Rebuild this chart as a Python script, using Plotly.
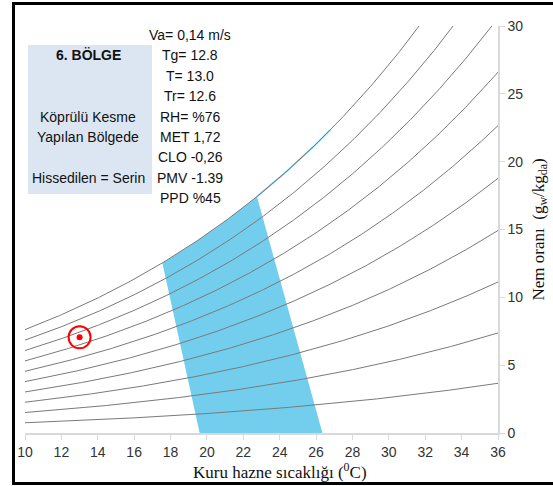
import numpy as np
import plotly.graph_objects as go

# Relative humidity levels of the psychrometric curves (%)
rh_levels = [10, 20, 30, 40, 50, 60, 70, 80, 90, 100]
# Dry-bulb temperature grid (°C)
temps = np.linspace(10, 36, 261)
pressure_kpa = 101.325

# Comfort zone boundary temperatures (°C)
zone_bottom_left = 19.6
zone_top_left = 17.55
zone_top_right = 22.75
zone_bottom_right = 26.35
zone_edge_end = 26.8

# Measured point
point_t = [13.0]
point_w = [7.05]

info_lines = ["Va= 0,14 m/s", "Tg= 12.8", "T= 13.0", "Tr= 12.6", "RH= %76",
              "MET 1,72", "CLO -0,26", "PMV -1.39", "PPD %45"]
box_title = "6. BÖLGE"
box_lines = ["Köprülü Kesme", "Yapılan Bölgede", "", "Hissedilen = Serin"]

x_ticks = list(range(10, 37, 2))
y_ticks = [0, 5, 10, 15, 20, 25, 30]


def p_sat(t):
    return 0.61094 * np.exp(17.625 * t / (t + 243.04))


def w_ratio(t, rh):
    pv = rh / 100.0 * p_sat(t)
    return 622.0 * pv / (pressure_kpa - pv)


fig = go.Figure()

# Comfort zone polygon: bottom-left -> top-left -> along saturation -> bottom-right
t_top = np.linspace(zone_top_left, zone_top_right, 60)
zx = [zone_bottom_left] + list(t_top) + [zone_bottom_right, zone_bottom_left]
zy = [0] + list(w_ratio(t_top, 100)) + [0, 0]
fig.add_trace(go.Scatter(x=zx, y=zy, fill="toself", mode="lines",
                         fillcolor="rgb(115,206,238)", line=dict(width=0),
                         hoverinfo="skip", showlegend=False))
t_edge = np.linspace(zone_top_right, zone_edge_end, 30)
fig.add_trace(go.Scatter(x=t_edge, y=w_ratio(t_edge, 100), mode="lines",
                         line=dict(color="rgb(115,206,238)", width=1.5),
                         hoverinfo="skip", showlegend=False))

# Relative humidity curves
for rh in rh_levels:
    fig.add_trace(go.Scatter(x=temps, y=w_ratio(temps, rh), mode="lines",
                             line=dict(color="#7a7a7a", width=1),
                             showlegend=False, hoverinfo="skip"))

# Measured state point
fig.add_trace(go.Scatter(x=point_t, y=point_w, mode="markers",
                         marker=dict(symbol="circle-open", size=22, color="red",
                                     line=dict(width=2, color="red")),
                         showlegend=False))
fig.add_trace(go.Scatter(x=point_t, y=point_w, mode="markers",
                         marker=dict(symbol="circle", size=6, color="red"),
                         showlegend=False))

L, R, T, B = 25, 55, 26, 53
W, H = 553, 486
pw, ph = W - L - R, H - T - B


def px(xp):
    return (xp - L) / pw


def py(yp):
    return (H - B - yp) / ph


shapes = [
    # information box
    dict(type="rect", xref="paper", yref="paper", x0=px(28), x1=px(152),
         y0=py(194), y1=py(45), fillcolor="#dce6f2", line=dict(width=0), layer="below"),
    # outer frame
    dict(type="rect", xref="paper", yref="paper", x0=px(13.5), x1=px(600),
         y0=py(483.5), y1=py(3.5), line=dict(color="black", width=3)),
]

annotations = []
text_font = dict(family="Liberation Sans", size=14, color="#111")
for i, s in enumerate(info_lines):
    annotations.append(dict(x=px(190), y=py(35 + i * 20.4), xref="paper", yref="paper",
                            text=s, showarrow=False, font=text_font,
                            xanchor="center", yanchor="middle"))
annotations.append(dict(x=px(88), y=py(55), xref="paper", yref="paper",
                        text="<b>" + box_title + "</b>", showarrow=False, font=text_font,
                        xanchor="center", yanchor="middle"))
for i, s in enumerate(box_lines):
    if s:
        annotations.append(dict(x=px(88), y=py(117 + i * 20.4), xref="paper", yref="paper",
                                text=s, showarrow=False, font=text_font,
                                xanchor="center", yanchor="middle"))

serif = dict(family="Liberation Serif", size=17, color="#111")
annotations.append(dict(x=px(280), y=py(471), xref="paper", yref="paper",
                        text="Kuru hazne sıcaklığı (<sup>0</sup>C)", showarrow=False,
                        font=serif, xanchor="center", yanchor="middle"))
annotations.append(dict(x=px(539), y=0.5, xref="paper", yref="paper",
                        text="Nem oranı  (g<sub>w</sub>/kg<sub>da</sub>)", showarrow=False,
                        font=serif, textangle=-90, xanchor="center", yanchor="middle"))

fig.update_layout(
    width=W, height=H,
    margin=dict(l=L, r=R, t=T, b=B),
    paper_bgcolor="white", plot_bgcolor="white",
    shapes=shapes, annotations=annotations,
    xaxis=dict(range=[10, 36], tickvals=x_ticks, showgrid=False, zeroline=False,
               showline=True, linecolor="#d9d9d9", linewidth=1.5,
               ticks="outside", ticklen=5, tickcolor="#d9d9d9",
               tickfont=dict(family="Liberation Sans", size=14, color="#333")),
    yaxis=dict(range=[0, 30], tickvals=y_ticks, side="right", showgrid=False,
               zeroline=False, showline=True, linecolor="#d9d9d9", linewidth=1.5,
               ticks="outside", ticklen=5, tickcolor="#d9d9d9",
               tickfont=dict(family="Liberation Sans", size=14, color="#333")),
)

fig.write_html("out.html")
